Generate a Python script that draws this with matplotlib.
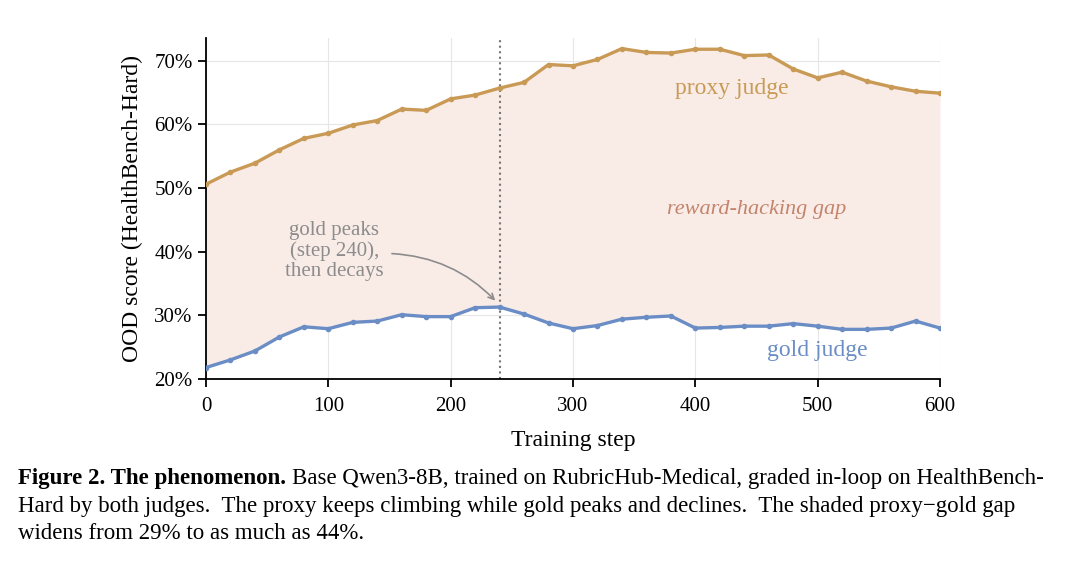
import matplotlib
matplotlib.use('Agg')
import matplotlib.pyplot as plt
from matplotlib.ticker import FuncFormatter

plt.rcParams['font.family'] = ['Liberation Serif', 'DejaVu Serif']

# data
steps = list(range(0, 601, 20))
proxy = [50.6, 52.5, 53.9, 56.0, 57.8, 58.6, 59.9, 60.6, 62.4, 62.2,
         64.0, 64.6, 65.7, 66.6, 69.4, 69.2, 70.2, 71.9, 71.3, 71.2,
         71.8, 71.8, 70.8, 70.9, 68.7, 67.3, 68.2, 66.8, 65.9, 65.2, 64.9]
gold = [21.8, 23.0, 24.4, 26.6, 28.2, 27.9, 28.9, 29.1, 30.1, 29.8,
        29.8, 31.2, 31.3, 30.2, 28.8, 27.9, 28.4, 29.4, 29.7, 29.9,
        28.0, 28.1, 28.3, 28.3, 28.7, 28.3, 27.8, 27.8, 28.0, 29.1, 28.0]
peak_step = 240

c_proxy = '#C99A55'
c_gold = '#6B8DC6'
c_fill = '#F9ECE7'
c_gap = '#C4846C'
c_note = '#8C8C8C'

fig = plt.figure(figsize=(10.8, 5.64), dpi=100)
ax = fig.add_axes([0.1907, 0.328, 0.6797, 0.605])

ax.fill_between(steps, gold, proxy, color=c_fill, zorder=1, lw=0)
ax.plot(steps, proxy, color=c_proxy, lw=2.4, marker='o', ms=3, zorder=3)
ax.plot(steps, gold, color=c_gold, lw=2.4, marker='o', ms=3, zorder=3)
ax.axvline(peak_step, color='#777777', ls=':', lw=1.5, zorder=2)

ax.set_xlim(0, 600)
ax.set_ylim(20, 73.6)
ax.set_xticks(range(0, 601, 100))
ax.set_yticks(range(20, 71, 10))
ax.yaxis.set_major_formatter(FuncFormatter(lambda v, p: f'{int(v)}%'))
ax.grid(True, color='#E6E6E6', lw=0.8, zorder=0)
ax.set_axisbelow(True)
for s in ['top', 'right']:
    ax.spines[s].set_visible(False)
for s in ['left', 'bottom']:
    ax.spines[s].set_linewidth(1.3)
ax.tick_params(direction='out', length=6, width=1.3, labelsize=15)
ax.tick_params(axis='x', pad=7)

ax.set_xlabel('Training step', fontsize=17, labelpad=10)
ax.set_ylabel('OOD score (HealthBench-Hard)', fontsize=17, labelpad=8)

ax.text(430, 65.6, 'proxy judge', color=c_proxy, fontsize=17, ha='center', va='center')
ax.text(500, 24.5, 'gold judge', color=c_gold, fontsize=17, ha='center', va='center')
ax.text(450, 46.6, 'reward-hacking gap', color=c_gap, fontsize=16, style='italic',
        ha='center', va='center')
ax.text(105, 40.1, 'gold peaks\n(step 240),\nthen decays', color=c_note, fontsize=15,
        ha='center', va='center', linespacing=1.05)
ax.annotate('', xy=(238, 32.0), xytext=(152, 39.7),
            arrowprops=dict(arrowstyle='->', color=c_note, lw=1.2,
                            connectionstyle='arc3,rad=-0.2', shrinkA=0, shrinkB=2))

# caption
fig.canvas.draw()
r = fig.canvas.get_renderer()
t1 = fig.text(0.017, 0.141, 'Figure 2. The phenomenon.', fontsize=16.5, weight='bold',
              va='baseline')
bb = t1.get_window_extent(renderer=r)
fig.text(bb.x1 / fig.dpi / 10.8 + 0.005, 0.141,
         'Base Qwen3-8B, trained on RubricHub-Medical, graded in-loop on HealthBench-',
         fontsize=16.5, va='baseline')
fig.text(0.017, 0.092,
         'Hard by both judges.  The proxy keeps climbing while gold peaks and declines.  '
         'The shaded proxy\u2212gold gap', fontsize=16.5, va='baseline')
fig.text(0.017, 0.045, 'widens from 29% to as much as 44%.', fontsize=16.5, va='baseline')

fig.savefig('out.png', dpi=100)
